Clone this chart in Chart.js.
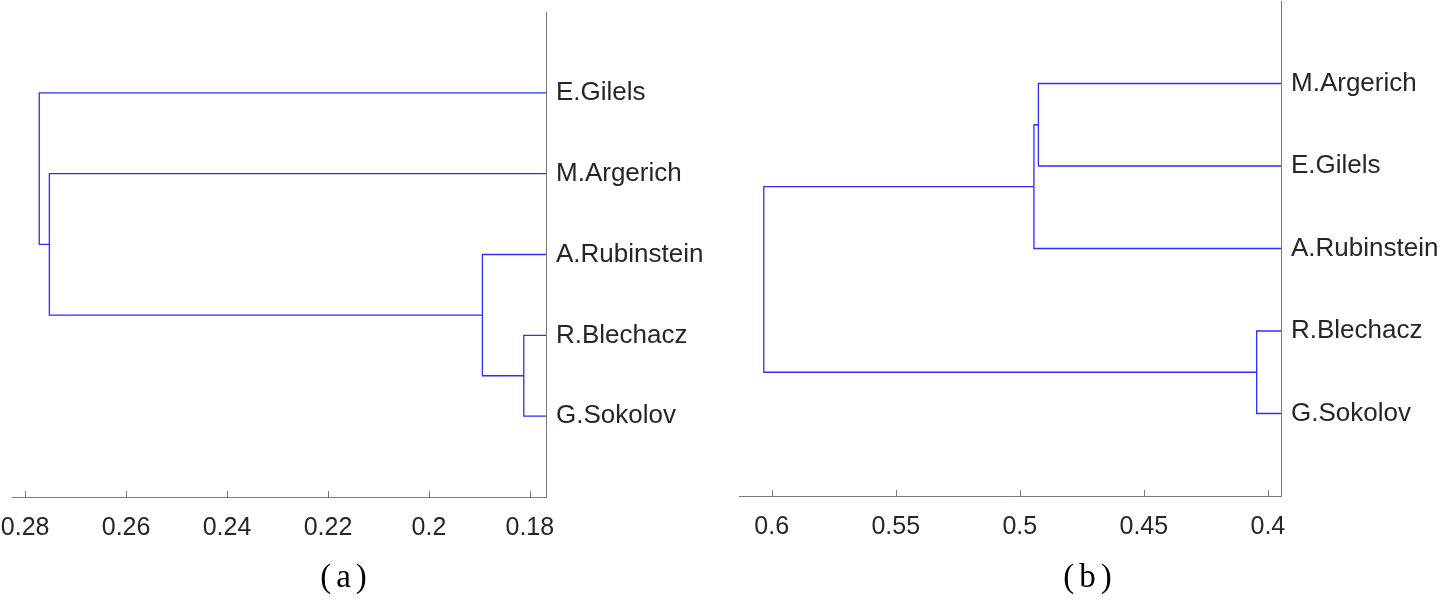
<!DOCTYPE html>
<html>
<head>
<meta charset="utf-8">
<script src="https://cdn.jsdelivr.net/npm/chart.js@4.4.1/dist/chart.umd.min.js"></script>
<style>
  html, body { margin: 0; padding: 0; background: #fff; }
  body { width: 1442px; height: 602px; position: relative; overflow: hidden; }
  .wrap { position: absolute; top: 0; width: 721px; height: 560px; }
  .cap { position: absolute; top: 558px; font-family: "Liberation Serif", "DejaVu Serif", serif; font-size: 33px; letter-spacing: 5px; color: #000; transform: translateX(-50%); white-space: nowrap; }
</style>
</head>
<body>
<div class="wrap" style="left:0"><canvas id="ca"></canvas></div>
<div class="wrap" style="left:721px"><canvas id="cb"></canvas></div>
<div class="cap" style="left:346px">(a)</div>
<div class="cap" style="left:1090px">(b)</div>
<script>
// ---------- data ----------
// Panel (a): leaves listed top to bottom
const leavesA = ['E.Gilels', 'M.Argerich', 'A.Rubinstein', 'R.Blechacz', 'G.Sokolov'];
// merges: [childA, childB, height]; leaves are 1..5, new clusters get 6, 7, ...
const mergesA = [[4, 5, 0.1812], [3, 6, 0.1894], [2, 7, 0.2752], [1, 8, 0.2772]];
const ticksA = [0.28, 0.26, 0.24, 0.22, 0.2, 0.18];
const tickLabelsA = ['0.28', '0.26', '0.24', '0.22', '0.2', '0.18'];
const rangeA = [0.1768, 0.2826];

// Panel (b)
const leavesB = ['M.Argerich', 'E.Gilels', 'A.Rubinstein', 'R.Blechacz', 'G.Sokolov'];
const mergesB = [[1, 2, 0.4925], [3, 6, 0.4943], [4, 5, 0.4045], [7, 8, 0.6032]];
const ticksB = [0.6, 0.55, 0.5, 0.45, 0.4];
const tickLabelsB = ['0.6', '0.55', '0.5', '0.45', '0.4'];
const rangeB = [0.3947, 0.6132];

const leafHeight = 0;

// ---------- helpers ----------
function buildDatasets(leaves, merges) {
  const pos = {}, h = {};
  leaves.forEach((_, i) => { pos[i + 1] = i + 1; h[i + 1] = leafHeight; });
  let next = leaves.length + 1;
  return merges.map(([a, b, H]) => {
    const d = [
      { x: h[a], y: pos[a] }, { x: H, y: pos[a] },
      { x: H, y: pos[b] }, { x: h[b], y: pos[b] }
    ];
    pos[next] = (pos[a] + pos[b]) / 2; h[next] = H; next++;
    return {
      data: d, showLine: true, borderColor: 'rgb(45,45,255)', borderWidth: 1.3,
      pointRadius: 0, pointHoverRadius: 0, fill: false, tension: 0
    };
  });
}

const AXIS = '#7a7a7a';
const TXT = '#262626';
const FONT = 'Liberation Sans, Arial, Helvetica, sans-serif';

const innerTicks = {
  id: 'innerTicks',
  afterDraw(chart) {
    const s = chart.scales.x, ctx = chart.ctx, b = chart.chartArea.bottom;
    ctx.save();
    ctx.strokeStyle = AXIS; ctx.lineWidth = 1;
    s.ticks.forEach(t => {
      const px = Math.round(s.getPixelForValue(t.value)) + 0.5;
      ctx.beginPath(); ctx.moveTo(px, b); ctx.lineTo(px, b - 6); ctx.stroke();
    });
    ctx.restore();
  }
};

function makeChart(id, leaves, merges, ticks, tickLabels, range, area) {
  const W = 721, H = 560;
  return new Chart(document.getElementById(id), {
    type: 'scatter',
    data: { datasets: buildDatasets(leaves, merges) },
    options: {
      responsive: false, animation: false, devicePixelRatio: 1,
      layout: { padding: { left: area.left, top: area.top, right: 0, bottom: 0 } },
      plugins: { legend: { display: false }, tooltip: { enabled: false } },
      events: [],
      scales: {
        x: {
          type: 'linear', reverse: true, min: range[0], max: range[1],
          afterBuildTicks: s => { s.ticks = ticks.map(v => ({ value: v })); },
          afterFit: s => { s.height = H - area.bottom; s.paddingLeft = 0; s.paddingRight = 0; },
          grid: { display: false, drawTicks: false },
          border: { display: true, color: AXIS, width: 1 },
          ticks: {
            autoSkip: false, maxRotation: 0, padding: 16, color: TXT,
            font: { family: FONT, size: 25 },
            callback: (v, i) => tickLabels[i]
          }
        },
        y: {
          type: 'linear', position: 'right', reverse: true, min: 0, max: 6,
          afterBuildTicks: s => { s.ticks = leaves.map((_, i) => ({ value: i + 1 })); },
          afterFit: s => { s.width = W - area.right; s.paddingTop = 0; s.paddingBottom = 0; },
          grid: { display: false, drawTicks: false },
          border: { display: true, color: AXIS, width: 1 },
          ticks: {
            autoSkip: false, padding: 10, color: TXT,
            font: { family: FONT, size: 26 },
            callback: (v, i) => leaves[i]
          }
        }
      }
    },
    plugins: [innerTicks]
  });
}

const cA = document.getElementById('ca'); cA.width = 721; cA.height = 560;
const cB = document.getElementById('cb'); cB.width = 721; cB.height = 560;
makeChart('ca', leavesA, mergesA, ticksA, tickLabelsA, rangeA, { left: 12, top: 12, right: 546, bottom: 497 });
makeChart('cb', leavesB, mergesB, ticksB, tickLabelsB, rangeB, { left: 18, top: 1, right: 560, bottom: 496 });
</script>
</body>
</html>
